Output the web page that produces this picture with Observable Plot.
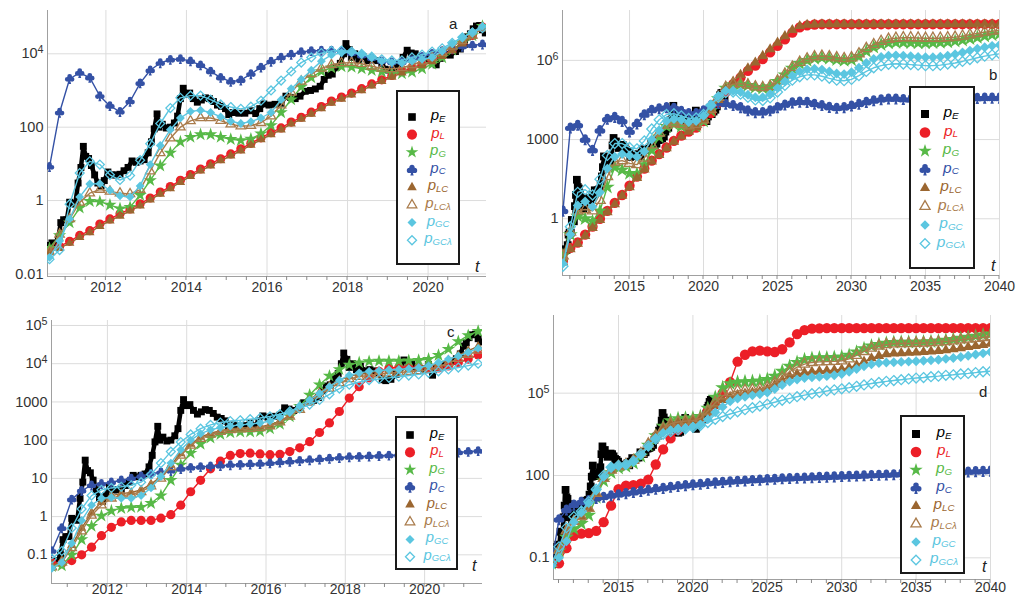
<!DOCTYPE html>
<html>
<head>
<meta charset="utf-8">
<script src="https://cdn.jsdelivr.net/npm/d3@7"></script>
<script src="https://cdn.jsdelivr.net/npm/@observablehq/plot@0.6"></script>
<style>
  body { margin: 0; background: #fff; }
  #chart { position: relative; width: 1024px; height: 598px; overflow: hidden; background: #fff;
           font-family: "Liberation Sans", Arial, sans-serif; }
  .panel { position: absolute; }
  #overlay { position: absolute; left: 0; top: 0; }
</style>
</head>
<body>
<div id="chart"></div>
<script>
// ---------------------------------------------------------------------------
// Observed price p_E (USD), irregular sampling
const tE = [2010.58, 2010.66, 2010.74, 2010.82, 2010.88, 2010.95, 2011.03, 2011.1, 2011.17, 2011.24,
  2011.31, 2011.38, 2011.44, 2011.5, 2011.57, 2011.64, 2011.72, 2011.8, 2011.88, 2011.96,
  2012.05, 2012.15, 2012.25, 2012.35, 2012.45, 2012.55, 2012.65, 2012.75, 2012.85, 2012.95,
  2013.05, 2013.13, 2013.2, 2013.27, 2013.32, 2013.4, 2013.5, 2013.6, 2013.7, 2013.78,
  2013.85, 2013.92, 2014.0, 2014.08, 2014.17, 2014.27, 2014.37, 2014.47, 2014.57, 2014.67,
  2014.77, 2014.87, 2014.97, 2015.05, 2015.15, 2015.3, 2015.45, 2015.6, 2015.72, 2015.82,
  2015.92, 2016.05, 2016.2, 2016.35, 2016.47, 2016.58, 2016.7, 2016.82, 2016.95, 2017.08,
  2017.2, 2017.32, 2017.42, 2017.52, 2017.62, 2017.72, 2017.82, 2017.9, 2017.96, 2018.04,
  2018.1, 2018.18, 2018.28, 2018.38, 2018.5, 2018.62, 2018.75, 2018.85, 2018.93, 2019.02,
  2019.15, 2019.28, 2019.38, 2019.48, 2019.58, 2019.68, 2019.78, 2019.88, 2019.98, 2020.1,
  2020.2, 2020.3, 2020.42, 2020.55, 2020.68, 2020.8, 2020.9, 2020.98, 2021.05, 2021.12,
  2021.2, 2021.28, 2021.35, 2021.42];
const priceE = [0.06, 0.07, 0.065, 0.1, 0.25, 0.3, 0.3, 0.9, 0.85, 0.8,
  3, 8, 30, 16, 14, 9, 5, 3, 2.5, 3.5,
  6, 5, 5, 5.2, 6.5, 8, 12, 11, 12, 13,
  20, 40, 90, 230, 100, 120, 95, 100, 130, 200,
  600, 1150, 800, 850, 600, 480, 550, 630, 600, 500,
  400, 370, 320, 220, 250, 240, 240, 280, 235, 320,
  430, 400, 420, 450, 700, 650, 600, 700, 950, 1000,
  1100, 1300, 2000, 2600, 2800, 4300, 5500, 10000, 19000, 13000,
  8000, 10000, 7000, 8500, 6500, 7000, 6500, 5500, 3800, 3600,
  3900, 5200, 8000, 12500, 10500, 10000, 8200, 7500, 7200, 9500,
  5000, 7500, 9500, 9200, 11500, 13500, 18000, 29000, 35000, 48000,
  57000, 59000, 45000, 37000];

// ---------------------------------------------------------------------------
// Model prices, stored as powers of ten (log10 of USD)
// Panels a and c: quarterly grid 2010.6 … 2021.35
const tAC = d3.range(44).map(i => +(2010.6 + 0.25 * i).toFixed(2));

const pL_a = [-1.36, -1.25, -1.11, -0.95, -0.82, -0.64, -0.5, -0.36, -0.23, -0.09, 0.07,
  0.23, 0.38, 0.55, 0.71, 0.86, 1.0, 1.14, 1.27, 1.41, 1.56, 1.71,
  1.85, 1.98, 2.14, 2.27, 2.41, 2.56, 2.71, 2.82, 2.93, 3.05, 3.18,
  3.29, 3.41, 3.52, 3.62, 3.71, 3.82, 3.95, 4.11, 4.29, 4.5, 4.73];
const pG_a = [-1.3, -0.95, -0.6, -0.2, -0.02, -0.03, -0.12, -0.22, -0.18, 0.15, 0.55,
  0.95, 1.3, 1.6, 1.73, 1.8, 1.8, 1.73, 1.67, 1.64, 1.68, 1.82,
  2.05, 2.4, 2.75, 3.1, 3.35, 3.52, 3.62, 3.65, 3.64, 3.6, 3.55,
  3.51, 3.48, 3.46, 3.5, 3.6, 3.72, 3.9, 4.1, 4.3, 4.5, 4.75];
const pC_a = [0.92, 2.4, 3.32, 3.48, 3.35, 2.85, 2.58, 2.42, 2.7, 3.2, 3.55,
  3.75, 3.84, 3.86, 3.8, 3.69, 3.52, 3.35, 3.24, 3.28, 3.45, 3.63,
  3.79, 3.9, 3.98, 4.05, 4.08, 4.09, 4.09, 4.07, 4.02, 3.95, 3.88,
  3.8, 3.77, 3.77, 3.83, 3.92, 4.0, 4.08, 4.15, 4.2, 4.23, 4.26];
const pLC_a = [-1.4, -1.3, -1.16, -1.0, -0.87, -0.7, -0.55, -0.42, -0.28, -0.14, 0.02,
  0.18, 0.33, 0.5, 0.66, 0.81, 0.95, 1.09, 1.22, 1.36, 1.51, 1.66,
  1.8, 1.93, 2.09, 2.22, 2.36, 2.51, 2.66, 2.77, 2.88, 3.0, 3.13,
  3.25, 3.37, 3.48, 3.59, 3.68, 3.79, 3.93, 4.09, 4.27, 4.48, 4.71];
const pLCl_a = [-1.4, -0.92, -0.5, -0.05, 0.2, 0.3, 0.25, 0.2, 0.18, 0.3, 0.8,
  1.3, 1.7, 2.0, 2.17, 2.25, 2.25, 2.18, 2.08, 2.03, 2.04, 2.12,
  2.3, 2.6, 2.95, 3.25, 3.45, 3.6, 3.7, 3.75, 3.76, 3.73, 3.66,
  3.6, 3.59, 3.62, 3.7, 3.8, 3.9, 4.03, 4.2, 4.35, 4.5, 4.7];
const pGC_a = [-1.55, -1.1, -0.5, 0.1, 0.45, 0.46, 0.28, 0.13, 0.1, 0.4, 0.98,
  1.5, 1.93, 2.25, 2.43, 2.46, 2.4, 2.28, 2.16, 2.1, 2.15, 2.25,
  2.4, 2.75, 3.05, 3.3, 3.55, 3.8, 3.97, 4.03, 4.04, 3.99, 3.9,
  3.8, 3.76, 3.75, 3.8, 3.85, 3.9, 4.07, 4.28, 4.45, 4.6, 4.75];
const pGCl_a = [-1.6, -1.35, -0.1, 0.75, 1.07, 0.98, 0.7, 0.56, 0.68, 1.1, 1.55,
  2.1, 2.52, 2.8, 2.86, 2.86, 2.75, 2.62, 2.55, 2.5, 2.56, 2.72,
  3.0, 3.27, 3.52, 3.76, 3.9, 4.02, 4.08, 4.09, 4.06, 4.0, 3.92,
  3.85, 3.82, 3.82, 3.9, 3.98, 4.06, 4.15, 4.3, 4.45, 4.58, 4.7];

const pL_c = [-1.2, -1.23, -1.15, -1.0, -0.8, -0.5, -0.28, -0.14, -0.1, -0.1, -0.1,
  -0.04, 0.05, 0.3, 0.65, 0.95, 1.25, 1.45, 1.6, 1.65, 1.66, 1.64,
  1.62, 1.63, 1.7, 1.8, 1.96, 2.2, 2.45, 2.75, 3.1, 3.4, 3.63,
  3.8, 3.88, 3.91, 3.91, 3.9, 3.87, 3.89, 3.94, 4.03, 4.12, 4.23];
const pG_c = [-1.3, -1.28, -1.0, -0.6, -0.25, 0.02, 0.15, 0.22, 0.24, 0.25, 0.35,
  0.55, 0.95, 1.35, 1.66, 1.9, 2.06, 2.15, 2.2, 2.22, 2.22, 2.23,
  2.3, 2.42, 2.62, 2.88, 3.18, 3.45, 3.68, 3.85, 3.97, 4.03, 4.06,
  4.07, 4.07, 4.07, 4.08, 4.09, 4.12, 4.22, 4.38, 4.58, 4.74, 4.85];
const pC_c = [-0.9, -0.3, 0.45, 0.68, 0.82, 0.86, 0.9, 0.95, 1.0, 1.06, 1.12,
  1.16, 1.2, 1.25, 1.28, 1.3, 1.32, 1.33, 1.35, 1.36, 1.37, 1.38,
  1.4, 1.42, 1.44, 1.46, 1.48, 1.5, 1.52, 1.54, 1.56, 1.57, 1.58,
  1.59, 1.6, 1.61, 1.62, 1.63, 1.64, 1.65, 1.66, 1.68, 1.7, 1.72];
const pLC_c = [-1.3, -1.15, -0.75, -0.3, 0.1, 0.38, 0.55, 0.6, 0.63, 0.7, 0.85,
  1.05, 1.35, 1.65, 1.9, 2.08, 2.18, 2.25, 2.3, 2.32, 2.33, 2.35,
  2.4, 2.5, 2.65, 2.85, 3.05, 3.25, 3.42, 3.57, 3.67, 3.73, 3.77,
  3.8, 3.82, 3.84, 3.86, 3.88, 3.92, 4.0, 4.1, 4.22, 4.34, 4.45];
const pLCl_c = [-1.32, -1.2, -0.82, -0.38, 0.03, 0.3, 0.48, 0.55, 0.58, 0.65, 0.8,
  1.0, 1.3, 1.6, 1.86, 2.04, 2.15, 2.22, 2.27, 2.29, 2.3, 2.32,
  2.37, 2.47, 2.62, 2.8, 3.0, 3.18, 3.35, 3.5, 3.6, 3.66, 3.7,
  3.73, 3.75, 3.77, 3.79, 3.81, 3.85, 3.92, 4.02, 4.13, 4.24, 4.35];
const pGC_c = [-1.35, -1.2, -0.7, -0.1, 0.3, 0.48, 0.5, 0.48, 0.48, 0.55, 0.75,
  1.05, 1.4, 1.75, 2.0, 2.17, 2.27, 2.33, 2.37, 2.4, 2.42, 2.45,
  2.5, 2.6, 2.73, 2.9, 3.05, 3.22, 3.4, 3.57, 3.7, 3.76, 3.8,
  3.82, 3.84, 3.85, 3.87, 3.9, 3.95, 4.03, 4.12, 4.2, 4.3, 4.4];
const pGCl_c = [-1.1, -0.9, -0.3, 0.2, 0.55, 0.7, 0.75, 0.78, 0.82, 0.9, 1.1,
  1.4, 1.7, 1.95, 2.15, 2.3, 2.4, 2.46, 2.5, 2.52, 2.55, 2.58,
  2.62, 2.68, 2.75, 2.83, 2.93, 3.05, 3.2, 3.35, 3.45, 3.52, 3.57,
  3.6, 3.63, 3.66, 3.69, 3.72, 3.76, 3.8, 3.85, 3.9, 3.95, 4.0];

// Panels b and d: half-year grid 2010.5 … 2040
const tBD = d3.range(60).map(i => 2010.5 + 0.5 * i);

const pL_b = [-1.6, -1.1, -0.9, -0.6, -0.3, 0.0, 0.3, 0.6, 0.9, 1.25,
  1.6, 1.9, 2.2, 2.45, 2.7, 2.95, 3.15, 3.3, 3.45, 3.7,
  4.0, 4.4, 4.8, 5.1, 5.35, 5.6, 5.8, 6.05, 6.3, 6.55,
  6.8, 7.05, 7.25, 7.33, 7.36, 7.37, 7.37, 7.37, 7.37, 7.37,
  7.37, 7.37, 7.37, 7.37, 7.37, 7.37, 7.37, 7.37, 7.37, 7.37,
  7.37, 7.37, 7.37, 7.37, 7.37, 7.37, 7.37, 7.37, 7.37, 7.37];
const pG_b = [-1.4, -0.6, 0.1, 0.0, -0.1, 0.3, 1.2, 1.95, 1.85, 1.72,
  1.7, 2.05, 2.6, 3.1, 3.5, 3.58, 3.5, 3.42, 3.5, 3.7,
  4.1, 4.55, 4.95, 5.08, 5.1, 5.05, 4.98, 4.95, 5.0, 5.2,
  5.45, 5.7, 5.88, 6.0, 6.08, 6.1, 6.08, 6.03, 6.0, 6.02,
  6.15, 6.35, 6.5, 6.6, 6.66, 6.68, 6.68, 6.67, 6.66, 6.66,
  6.67, 6.68, 6.7, 6.73, 6.77, 6.82, 6.87, 6.92, 6.97, 7.0];
const pC_b = [0.3, 3.45, 3.55, 3.0, 2.6, 3.35, 3.78, 3.85, 3.7, 3.3,
  3.6, 3.95, 4.12, 4.18, 4.22, 4.2, 4.08, 4.0, 4.0, 4.1,
  4.3, 4.38, 4.35, 4.3, 4.22, 4.1, 4.03, 4.03, 4.1, 4.22,
  4.32, 4.4, 4.43, 4.42, 4.35, 4.3, 4.23, 4.2, 4.22, 4.28,
  4.35, 4.42, 4.48, 4.52, 4.55, 4.55, 4.53, 4.52, 4.52, 4.53,
  4.54, 4.55, 4.55, 4.56, 4.56, 4.57, 4.57, 4.58, 4.58, 4.58];
const pLC_b = [-1.65, -1.15, -0.95, -0.65, -0.35, -0.05, 0.25, 0.55, 0.87, 1.2,
  1.55, 1.87, 2.17, 2.42, 2.67, 2.92, 3.12, 3.3, 3.47, 3.75,
  4.1, 4.5, 4.9, 5.2, 5.45, 5.7, 5.92, 6.17, 6.42, 6.67,
  6.92, 7.15, 7.3, 7.35, 7.36, 7.37, 7.37, 7.37, 7.37, 7.37,
  7.37, 7.37, 7.37, 7.37, 7.37, 7.37, 7.37, 7.37, 7.37, 7.37,
  7.37, 7.37, 7.37, 7.37, 7.37, 7.37, 7.37, 7.37, 7.37, 7.37];
const pLCl_b = [-1.4, -0.5, 0.3, 0.35, 0.3, 0.7, 1.6, 2.15, 2.2, 2.1,
  2.05, 2.3, 2.8, 3.25, 3.55, 3.62, 3.58, 3.52, 3.58, 3.75,
  4.15, 4.6, 4.98, 5.1, 5.12, 5.07, 5.0, 4.97, 5.02, 5.22,
  5.48, 5.74, 5.93, 6.06, 6.14, 6.16, 6.14, 6.1, 6.07, 6.1,
  6.25, 6.45, 6.6, 6.72, 6.8, 6.84, 6.86, 6.86, 6.85, 6.84,
  6.84, 6.84, 6.86, 6.88, 6.92, 6.97, 7.02, 7.07, 7.11, 7.14];
const pGC_b = [-1.7, -0.6, 0.5, 0.65, 0.45, 1.0, 1.9, 2.35, 2.45, 2.4,
  2.35, 2.55, 3.0, 3.35, 3.7, 3.78, 3.75, 3.66, 3.7, 3.9,
  4.3, 4.65, 4.85, 4.85, 4.8, 4.7, 4.6, 4.6, 4.72, 4.95,
  5.2, 5.42, 5.58, 5.66, 5.68, 5.65, 5.58, 5.5, 5.48, 5.55,
  5.72, 5.9, 6.05, 6.13, 6.18, 6.19, 6.18, 6.16, 6.13, 6.12,
  6.12, 6.14, 6.18, 6.23, 6.3, 6.37, 6.44, 6.5, 6.55, 6.58];
const pGCl_b = [-1.8, -0.3, 1.0, 1.1, 0.9, 1.5, 2.4, 2.85, 2.85, 2.7,
  2.65, 2.95, 3.4, 3.75, 3.95, 3.98, 3.9, 3.8, 3.82, 3.95,
  4.3, 4.6, 4.78, 4.8, 4.72, 4.6, 4.5, 4.48, 4.58, 4.8,
  5.05, 5.25, 5.38, 5.45, 5.45, 5.4, 5.32, 5.25, 5.23, 5.28,
  5.42, 5.58, 5.72, 5.8, 5.85, 5.87, 5.86, 5.84, 5.82, 5.8,
  5.8, 5.82, 5.86, 5.9, 5.96, 6.03, 6.1, 6.16, 6.21, 6.25];

const pL_d = [-1.2, -1.2, -0.65, -0.2, -0.12, -0.1, -0.02, 0.3, 0.9, 1.5,
  1.63, 1.65, 1.7, 1.85, 2.4, 2.95, 3.35, 3.65, 3.85, 3.95,
  4.0, 4.35, 4.6, 5.0, 5.4, 6.15, 6.4, 6.52, 6.55, 6.52,
  6.5, 6.6, 6.85, 7.15, 7.3, 7.35, 7.36, 7.37, 7.37, 7.37,
  7.37, 7.37, 7.37, 7.37, 7.37, 7.37, 7.37, 7.37, 7.37, 7.37,
  7.37, 7.37, 7.37, 7.37, 7.37, 7.37, 7.37, 7.37, 7.37, 7.37];
const pG_d = [-1.2, -0.75, -0.25, 0.05, 0.25, 0.55, 1.2, 1.8, 2.1, 2.27,
  2.33, 2.45, 2.7, 3.1, 3.45, 3.8, 4.0, 4.07, 4.09, 4.1,
  4.15, 4.45, 4.85, 5.2, 5.35, 5.4, 5.42, 5.43, 5.45, 5.5,
  5.62, 5.8, 5.98, 6.12, 6.22, 6.27, 6.29, 6.29, 6.3, 6.32,
  6.38, 6.5, 6.62, 6.72, 6.78, 6.82, 6.85, 6.86, 6.86, 6.86,
  6.87, 6.88, 6.9, 6.93, 6.96, 7.0, 7.04, 7.08, 7.12, 7.16];
const pC_d = [-1.2, 0.4, 0.75, 0.93, 1.03, 1.1, 1.17, 1.22, 1.27, 1.31,
  1.35, 1.39, 1.43, 1.47, 1.51, 1.54, 1.58, 1.61, 1.64, 1.67,
  1.69, 1.72, 1.74, 1.76, 1.78, 1.8, 1.81, 1.83, 1.84, 1.86,
  1.87, 1.89, 1.9, 1.91, 1.92, 1.93, 1.94, 1.95, 1.96, 1.97,
  1.98, 1.99, 2.0, 2.01, 2.02, 2.03, 2.04, 2.05, 2.06, 2.07,
  2.08, 2.09, 2.1, 2.11, 2.12, 2.13, 2.14, 2.15, 2.16, 2.17];
const pLC_d = [-1.2, -0.7, 0.0, 0.35, 0.5, 0.8, 1.35, 1.9, 2.2, 2.33,
  2.4, 2.55, 2.8, 3.15, 3.45, 3.7, 3.85, 3.92, 3.95, 3.98,
  4.05, 4.3, 4.55, 4.75, 4.87, 4.94, 4.98, 5.02, 5.06, 5.15,
  5.3, 5.48, 5.62, 5.7, 5.75, 5.78, 5.8, 5.82, 5.84, 5.87,
  5.93, 6.02, 6.15, 6.27, 6.36, 6.42, 6.45, 6.46, 6.47, 6.48,
  6.5, 6.52, 6.54, 6.57, 6.6, 6.64, 6.68, 6.72, 6.76, 6.8];
const pLCl_d = [-1.2, -0.72, -0.02, 0.33, 0.5, 0.8, 1.35, 1.9, 2.2, 2.33,
  2.4, 2.55, 2.8, 3.15, 3.45, 3.72, 3.88, 3.95, 3.98, 4.0,
  4.08, 4.35, 4.65, 4.9, 5.02, 5.08, 5.1, 5.12, 5.15, 5.22,
  5.38, 5.58, 5.78, 5.95, 6.06, 6.12, 6.14, 6.15, 6.16, 6.18,
  6.25, 6.38, 6.52, 6.64, 6.72, 6.77, 6.8, 6.81, 6.81, 6.82,
  6.83, 6.84, 6.86, 6.88, 6.91, 6.94, 6.97, 7.0, 7.03, 7.06];
const pGC_d = [-1.3, -1.0, -0.4, 0.3, 0.65, 1.0, 1.45, 1.95, 2.3, 2.35,
  2.37, 2.5, 2.75, 3.05, 3.35, 3.55, 3.65, 3.7, 3.73, 3.78,
  3.85, 4.05, 4.3, 4.5, 4.7, 4.8, 4.87, 4.92, 4.96, 5.02,
  5.15, 5.3, 5.42, 5.5, 5.55, 5.58, 5.6, 5.62, 5.65, 5.7,
  5.78, 5.88, 5.98, 6.05, 6.1, 6.12, 6.13, 6.14, 6.15, 6.16,
  6.18, 6.2, 6.22, 6.25, 6.28, 6.32, 6.36, 6.41, 6.45, 6.5];
const pGCl_d = [-1.2, -0.6, 0.1, 0.5, 0.7, 1.05, 1.5, 2.0, 2.3, 2.37,
  2.4, 2.52, 2.78, 3.08, 3.33, 3.5, 3.6, 3.66, 3.7, 3.75,
  3.82, 3.93, 4.05, 4.15, 4.24, 4.32, 4.4, 4.47, 4.53, 4.6,
  4.67, 4.74, 4.81, 4.87, 4.93, 4.98, 5.03, 5.08, 5.12, 5.16,
  5.2, 5.25, 5.3, 5.35, 5.39, 5.43, 5.46, 5.49, 5.52, 5.55,
  5.57, 5.6, 5.62, 5.65, 5.67, 5.7, 5.72, 5.75, 5.78, 5.8];

// Tick values and their labels
const xTicksAC = [2012, 2014, 2016, 2018, 2020];
const xTicksBD = [2015, 2020, 2025, 2030, 2035, 2040];
const yTicksA = [0.01, 1, 100, 1e4];
const yLabelsA = ["0.01", "1", "100", "10^4"];
const yTicksB = [1, 1000, 1e6];
const yLabelsB = ["1", "1000", "10^6"];
const yTicksC = [0.1, 1, 10, 100, 1000, 1e4, 1e5];
const yLabelsC = ["0.1", "1", "10", "100", "1000", "10^4", "10^5"];
const yTicksD = [0.1, 100, 1e5];
const yLabelsD = ["0.1", "100", "10^5"];

// Legend entries: key and subscript text
const seriesKeys = ["E", "L", "G", "C", "LC", "LCl", "GC", "GCl"];
const seriesSubs = ["E", "L", "G", "C", "LC", "LCλ", "GC", "GCλ"];

// ---------------------------------------------------------------------------
// Club-suit marker for p_C: three round lobes and a flared stem
const club = {
  draw(context, size) {
    const s = Math.sqrt(size / Math.PI);
    const rr = 0.5 * s;
    for (const [cx, cy] of [[0, -0.48 * s], [-0.5 * s, 0.12 * s], [0.5 * s, 0.12 * s]]) {
      context.moveTo(cx + rr, cy);
      context.arc(cx, cy, rr, 0, 2 * Math.PI);
    }
    context.moveTo(0, 0);
    context.lineTo(0.32 * s, 1.08 * s);
    context.lineTo(-0.32 * s, 1.08 * s);
    context.closePath();
  }
};

const look = {
  E:   {color: "#000000", text: "#000000", symbol: "square",   open: false, r: 3.9},
  L:   {color: "#ec1f27", text: "#ec1f27", symbol: "circle",   open: false, r: 4.6},
  G:   {color: "#57b947", text: "#57b947", symbol: "star",     open: false, r: 4.2},
  C:   {color: "#3451a5", text: "#3451a5", symbol: club,       open: false, r: 4.8},
  LC:  {color: "#9b6630", text: "#9b6630", symbol: "triangle", open: false, r: 3.5},
  LCl: {color: "#a97b4b", text: "#a97b4b", symbol: "triangle", open: true,  r: 3.5},
  GC:  {color: "#5bc6e0", text: "#5bc6e0", symbol: "diamond2", open: false, r: 4.0},
  GCl: {color: "#5bc6e0", text: "#5bc6e0", symbol: "diamond2", open: true,  r: 4.0}
};

const panels = [
  {id: "a", left: 0, top: 0, w: 512, h: 300, m: [10, 26, 24, 47], xDomain: [2010.55, 2021.45], yExp: [-2.07, 5.18],
   t: tAC, series: {L: pL_a, G: pG_a, C: pC_a, LC: pLC_a, LCl: pLCl_a, GC: pGC_a, GCl: pGCl_a},
   xTicks: xTicksAC, xMinor: d3.range(2011, 2021.01, 0.5), yTicks: yTicksA, yLabels: yLabelsA,
   xPad: 6, k: 1,
   legend: {x: 397, y: 91, w: 62, h: 173, y0: 117, dy: 17.6, mx: 412, tx: 438, fs: 15},
   letter: [449, 29], tLab: [475, 272]},
  {id: "b", left: 512, top: 0, w: 512, h: 300, m: [10, 25, 25, 50], xDomain: [2010.47, 2040], yExp: [-2.15, 7.89],
   t: tBD, series: {L: pL_b, G: pG_b, C: pC_b, LC: pLC_b, LCl: pLCl_b, GC: pGC_b, GCl: pGCl_b},
   xTicks: xTicksBD, xMinor: d3.range(2011, 2040.01, 1), yTicks: yTicksB, yLabels: yLabelsB,
   xPad: 6, k: 1.12,
   legend: {x: 910, y: 87, w: 64, h: 181, y0: 114, dy: 18.5, mx: 925, tx: 951, fs: 15.5},
   letter: [989, 80], tLab: [991, 271]},
  {id: "c", left: 0, top: 300, w: 512, h: 298, m: [20, 30, 15, 51], xDomain: [2010.59, 2021.46], yExp: [-1.75, 5.13],
   t: tAC, series: {L: pL_c, G: pG_c, C: pC_c, LC: pLC_c, LCl: pLCl_c, GC: pGC_c, GCl: pGCl_c},
   xTicks: xTicksAC, xMinor: d3.range(2011, 2021.01, 0.5), yTicks: yTicksC, yLabels: yLabelsC,
   xPad: 1, k: 1,
   legend: {x: 396, y: 417, w: 61, h: 152, y0: 435, dy: 17.4, mx: 410, tx: 437, fs: 14.8},
   letter: [447, 337], tLab: [472, 571]},
  {id: "d", left: 512, top: 300, w: 512, h: 298, m: [15, 34, 19, 41], xDomain: [2010.63, 2040], yExp: [-1.79, 7.83],
   t: tBD, series: {L: pL_d, G: pG_d, C: pC_d, LC: pLC_d, LCl: pLCl_d, GC: pGC_d, GCl: pGCl_d},
   xTicks: xTicksBD, xMinor: d3.range(2011, 2040.01, 1), yTicks: yTicksD, yLabels: yLabelsD,
   xPad: 3, k: 1.12,
   legend: {x: 901, y: 416, w: 63, h: 157, y0: 434, dy: 18, mx: 916, tx: 944, fs: 15.3},
   letter: [979, 397], tLab: [982, 572]}
];

const chart = document.getElementById("chart");
const SVGNS = "http://www.w3.org/2000/svg";

function seriesMarks(data, key, k) {
  const s = look[key];
  return [
    Plot.line(data, {x: "t", y: "v", stroke: s.color, strokeWidth: key === "E" ? 4.5 : 1.4, clip: true}),
    Plot.dot(data, {
      x: "t", y: "v", symbol: s.symbol, r: s.r * k,
      fill: s.open ? "none" : s.color,
      stroke: s.open ? s.color : "none",
      strokeWidth: s.open ? 1.3 : 0,
      clip: true
    })
  ];
}

for (const p of panels) {
  const yDomain = [10 ** p.yExp[0], 10 ** p.yExp[1]];
  const labelOf = new Map(p.yTicks.map((v, i) => [v, p.yLabels[i]]));
  const marks = [
    Plot.gridX(p.xTicks, {stroke: "#dcdcdc", strokeOpacity: 1, strokeWidth: 1}),
    Plot.gridY(p.yTicks, {stroke: "#dcdcdc", strokeOpacity: 1, strokeWidth: 1}),
    Plot.ruleX([p.xDomain[0]], {stroke: "#a0a0a0"}),
    Plot.ruleY([yDomain[0]], {stroke: "#a0a0a0"}),
    Plot.axisX(p.xTicks, {tickSize: 0, tickPadding: p.xPad, tickFormat: d => String(d),
      fontSize: 14, fill: "#333", label: null}),
    Plot.axisY(p.yTicks, {tickSize: 0, tickPadding: 4, tickFormat: d => labelOf.get(d),
      fontSize: 14.5, fill: "#333", label: null})
  ];
  // observed price
  const eData = tE.map((t, i) => ({t, v: priceE[i]}));
  marks.push(...seriesMarks(eData, "E", p.k));
  // model curves
  for (const key of seriesKeys.slice(1)) {
    const exps = p.series[key];
    const data = p.t.map((t, i) => ({t, v: 10 ** exps[i]}));
    marks.push(...seriesMarks(data, key, p.k));
  }

  const svg = Plot.plot({
    width: p.w, height: p.h,
    marginTop: p.m[0], marginRight: p.m[1], marginBottom: p.m[2], marginLeft: p.m[3],
    x: {domain: p.xDomain, label: null},
    y: {type: "log", domain: yDomain, label: null},
    style: {background: "transparent", overflow: "visible", fontFamily: "'Liberation Sans', Arial, sans-serif"},
    marks
  });
  // superscript exponents in y tick labels
  svg.querySelectorAll("text").forEach(el => {
    const s = el.textContent;
    if (s.includes("^")) {
      const [base, ex] = s.split("^");
      el.textContent = base;
      const ts = document.createElementNS(SVGNS, "tspan");
      ts.setAttribute("dy", "-0.48em");
      ts.setAttribute("font-size", "0.74em");
      ts.textContent = ex;
      el.appendChild(ts);
    }
  });
  // short minor ticks hanging below the x axis line
  const xs = svg.scale("x");
  const yBottom = p.h - p.m[2];
  const tickG = d3.select(svg).append("g").attr("stroke", "#8a8a8a");
  for (const v of p.xMinor) {
    const px = xs.apply(v);
    tickG.append("line").attr("x1", px).attr("x2", px).attr("y1", yBottom).attr("y2", yBottom + 4);
  }
  const holder = document.createElement("div");
  holder.className = "panel";
  holder.style.left = p.left + "px";
  holder.style.top = p.top + "px";
  holder.appendChild(svg);
  chart.appendChild(holder);
}

// ---------------------------------------------------------------------------
// Legends, panel letters and axis variable, drawn on one overlay
const overlay = d3.select(chart).append("svg")
  .attr("id", "overlay").attr("width", 1024).attr("height", 598)
  .style("font-family", "'Liberation Sans', Arial, sans-serif");

const legendSize = {E: 58, L: 80, G: 50, C: 85, LC: 40, LCl: 40, GC: 52, GCl: 52};

for (const p of panels) {
  const L = p.legend;
  const g = overlay.append("g");
  g.append("rect").attr("x", L.x).attr("y", L.y).attr("width", L.w).attr("height", L.h)
    .attr("fill", "#fff").attr("stroke", "#1a1a1a").attr("stroke-width", 2);
  seriesKeys.forEach((key, i) => {
    const s = look[key];
    const cy = L.y0 + i * L.dy;
    const sym = typeof s.symbol === "string"
      ? {square: d3.symbolSquare, circle: d3.symbolCircle, star: d3.symbolStar,
         triangle: d3.symbolTriangle, diamond2: d3.symbolDiamond2}[s.symbol]
      : s.symbol;
    g.append("path")
      .attr("d", d3.symbol(sym, legendSize[key] * p.k)())
      .attr("transform", `translate(${L.mx},${cy})`)
      .attr("fill", s.open ? "none" : s.color)
      .attr("stroke", s.open ? s.color : "none")
      .attr("stroke-width", 1.3);
    const txt = g.append("text")
      .attr("x", L.tx).attr("y", cy + 3)
      .attr("text-anchor", "middle")
      .attr("fill", s.text)
      .attr("font-style", "italic")
      .attr("font-size", L.fs);
    txt.append("tspan").text("p");
    txt.append("tspan").attr("dy", 1.5).attr("font-size", L.fs * 0.64).text(seriesSubs[i]);
  });
  overlay.append("text").attr("x", p.letter[0]).attr("y", p.letter[1])
    .attr("font-size", 15).attr("fill", "#222").text(p.id);
  overlay.append("text").attr("x", p.tLab[0]).attr("y", p.tLab[1])
    .attr("font-size", 16).attr("font-style", "italic").attr("fill", "#222").text("t");
}
</script>
</body>
</html>
